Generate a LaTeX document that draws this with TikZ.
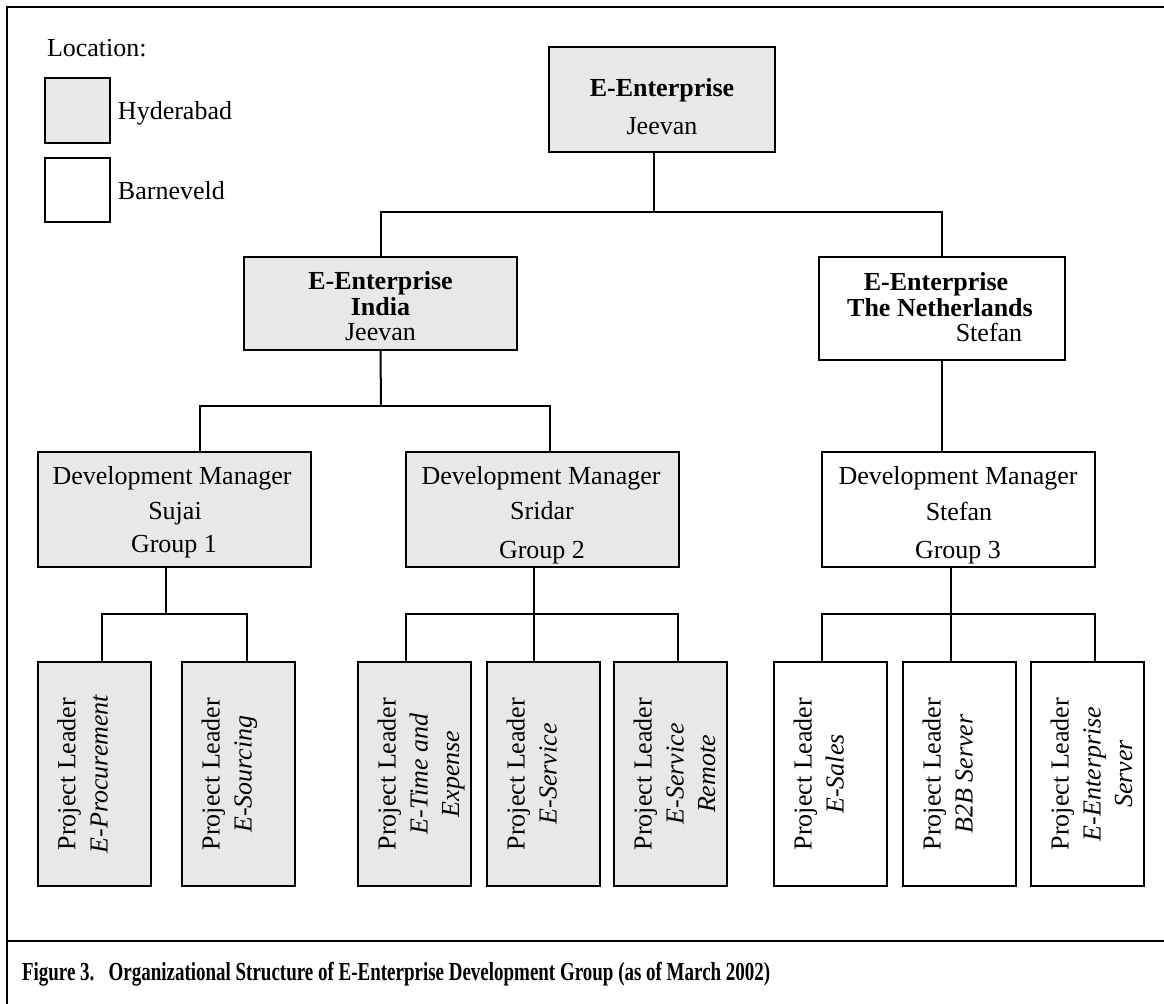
\documentclass[tikz,border=0pt]{standalone}
\usepackage{fontspec}
\setmainfont{Liberation Serif}
\usepackage{graphicx}
\definecolor{boxgray}{RGB}{232,232,232}
\tikzset{
  every node/.style={inner sep=0pt, outer sep=0pt},
  box/.style={draw, line width=1pt, rectangle},
  gbox/.style={box, fill=boxgray},
  wbox/.style={box, fill=white},
  conn/.style={line width=1pt},
  framel/.style={line width=1.4pt},
  txt/.style={font=\fontsize{13}{15}\selectfont, anchor=base},
  btxt/.style={font=\fontsize{13}{15}\selectfont\bfseries, anchor=base},
  itxt/.style={font=\fontsize{13}{15}\selectfont\itshape, anchor=base},
  rtxt/.style={txt, rotate=90},
  ritxt/.style={itxt, rotate=90},
}
% name, style, x1, y1, x2, y2 (pixels)
\newcommand\orgbox[6]{%
  \node[#2, minimum width={(#5-#3)*0.5pt}, minimum height={(#6-#4)*0.5pt}] (#1) at ({(#3+#5)/2},{(#4+#6)/2}) {};}
% name, style, left, line2
\newcommand\pltwo[4]{%
  \orgbox{#1}{#2}{#3}{662}{#3+112.5}{886}
  \node[rtxt] (#1-a) at (#3+37.5,774) {Project Leader};
  \node[ritxt] (#1-b) at (#3+69.5,774) {#4};}
% name, style, left, line2, line3
\newcommand\plthree[5]{%
  \pltwo{#1}{#2}{#3}{#4}
  \node[ritxt] (#1-c) at (#3+101,774) {#5};}
\begin{document}
\begin{tikzpicture}[x=0.5pt, y=-0.5pt]
\useasboundingbox (0,0) rectangle (1164,1004);
% frame
\coordinate (fTR) at (1164,7);
\coordinate (fTL) at (7,7);
\coordinate (fBL) at (7,1004);
\coordinate (dL) at (7,941);
\coordinate (dR) at (1164,941);
\draw[framel] (fTR) -- (fTL) -- (fBL);
\draw[framel] (dL) -- (dR);

% legend
\node[txt, anchor=base west] (loc) at (47,57) {Location:};
\orgbox{leg1}{gbox}{45}{78}{110}{143}
\orgbox{leg2}{wbox}{45}{158}{110}{222}
\node[txt, anchor=base west] (hyd) at (118,120) {Hyderabad};
\node[txt, anchor=base west] (barn) at (118,200) {Barneveld};

% top
\orgbox{top}{gbox}{549}{47}{775}{152}
\node[btxt] (top-a) at (662,97) {E-Enterprise};
\node[txt] (top-b) at (662,135) {Jeevan};

% India
\orgbox{india}{gbox}{244}{257}{517}{350}
\node[btxt] (india-a) at (380.5,290) {E-Enterprise};
\node[btxt] (india-b) at (380.5,316) {India};
\node[txt] (india-c) at (380.5,341) {Jeevan};

% Netherlands
\orgbox{neth}{wbox}{819}{257}{1065}{360}
\node[btxt] (neth-a) at (936,291) {E-Enterprise};
\node[btxt] (neth-b) at (940,317) {The Netherlands};
\node[txt] (neth-c) at (989,342) {Stefan};

% development managers
\orgbox{sujai}{gbox}{38}{452}{311}{567}
\node[txt] (sujai-a) at (172,485) {Development Manager};
\node[txt] (sujai-b) at (175,520) {Sujai};
\node[txt] (sujai-c) at (174,553) {Group 1};

\orgbox{sridar}{gbox}{406}{452}{679}{567}
\node[txt] (sridar-a) at (541,485) {Development Manager};
\node[txt] (sridar-b) at (542,520) {Sridar};
\node[txt] (sridar-c) at (542,559) {Group 2};

\orgbox{stefan}{wbox}{822}{452}{1095}{567}
\node[txt] (stefan-a) at (958,485) {Development Manager};
\node[txt] (stefan-b) at (959,521) {Stefan};
\node[txt] (stefan-c) at (958,559) {Group 3};

% project leaders
\pltwo{pl1}{gbox}{38}{E-Procurement}
\pltwo{pl2}{gbox}{182}{E-Sourcing}
\plthree{pl3}{gbox}{358}{E-Time and}{Expense}
\pltwo{pl4}{gbox}{487}{E-Service}
\plthree{pl5}{gbox}{614}{E-Service}{Remote}
\pltwo{pl6}{wbox}{774}{E-Sales}
\pltwo{pl7}{wbox}{903}{B2B Server}
\plthree{pl8}{wbox}{1031}{E-Enterprise}{Server}

% connectors
\coordinate (j0) at (654,212);
\draw[conn] ([xshift=-4pt]top.south) -- (j0);
\draw[conn] (india.north) |- (j0) -| (neth.north);

\coordinate (j1) at (381,406);
\coordinate (k0a) at (200,406);
\coordinate (k0b) at (550,406);
\draw[conn] (india.south) -- (j1);
\draw[conn] (sujai.north -| k0a) |- (j1) -| (sridar.north -| k0b);
\draw[conn] (neth.south) -- (neth.south |- stefan.north);

\coordinate (j2) at (166,614);
\coordinate (k1) at (102,614);
\coordinate (k2) at (247,614);
\draw[conn] (sujai.south -| j2) -- (j2);
\draw[conn] (pl1.north -| k1) |- (j2) -| (pl2.north -| k2);

\coordinate (j3) at (534,614);
\coordinate (k3) at (406,614);
\coordinate (k5) at (678,614);
\draw[conn] (sridar.south -| j3) -- (pl4.north -| j3);
\draw[conn] (pl3.north -| k3) |- (j3) -| (pl5.north -| k5);

\coordinate (j4) at (951,614);
\coordinate (k6) at (822,614);
\coordinate (k8) at (1095,614);
\draw[conn] (stefan.south -| j4) -- (pl7.north -| j4);
\draw[conn] (pl6.north -| k6) |- (j4) -| (pl8.north -| k8);

% caption
\node[btxt, anchor=base west] (cap) at (22,981) {\scalebox{0.73}[1]{Figure 3.\ \ \ Organizational Structure of E-Enterprise Development Group (as of March 2002)}};
\end{tikzpicture}
\end{document}
